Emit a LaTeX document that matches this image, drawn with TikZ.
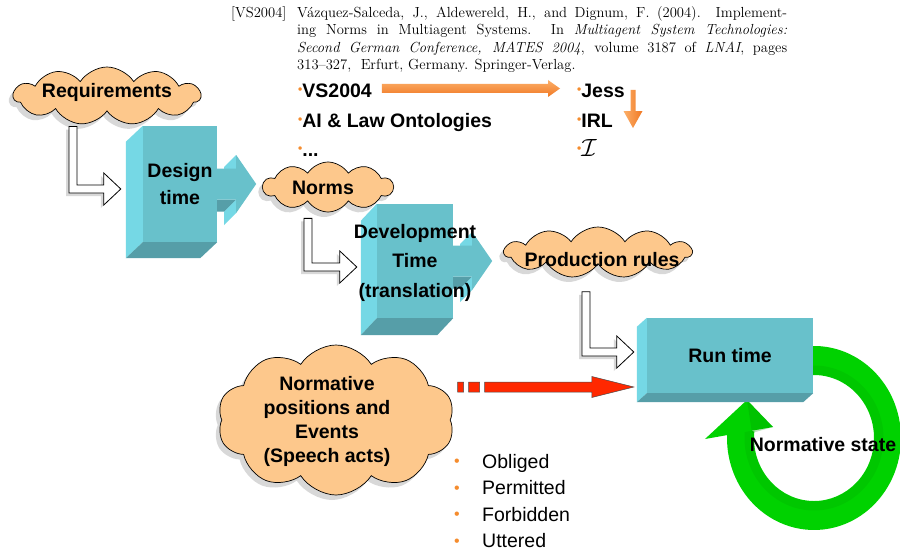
\documentclass[tikz,border=0pt]{standalone}
\usepackage{fontspec}
\newfontfamily\arial{Liberation Sans}
\usetikzlibrary{shapes.symbols,shadows,calc}

\definecolor{boxfront}{RGB}{104,193,203}
\definecolor{boxleft}{RGB}{117,216,229}
\definecolor{boxbottom}{RGB}{86,158,168}
\definecolor{cloudfill}{RGB}{253,200,140}
\definecolor{redarrow}{RGB}{255,40,0}
\definecolor{orangearrow}{RGB}{240,120,35}
\definecolor{orangelight}{RGB}{252,175,105}
\definecolor{bulorange}{RGB}{245,140,45}
\definecolor{ringgreen}{RGB}{0,210,0}
\definecolor{ringdark}{RGB}{0,150,0}

\pgfdeclarelayer{back}
\pgfsetlayers{back,main}

% left and bottom faces of an extruded box whose front face is node #1
\newcommand\sidefaces[3]{%
  \fill[boxleft] (#1.north west) -- ++(-#2,-#3) -- ($(#1.south west)+(-#2,-#3)$) -- (#1.south west) -- cycle;
  \fill[boxbottom] (#1.south west) -- ++(-#2,-#3) -- ($(#1.south east)+(-#2,-#3)$) -- (#1.south east) -- cycle;}

% extruded block arrow leaving the right side of box #1
\newcommand\boxarrow[1]{%
  \begin{scope}[shift={(#1.east)}]
    \fill[boxleft] (19,15.5) -- (19,29) -- (7,17) -- (7,3.5) -- cycle;
    \fill[boxleft] (19,-29) -- (19,-15.5) -- (7,-27.5) -- (7,-41) -- cycle;
    \fill[boxbottom] (19,-15.5) -- (0,-15.5) -- (-12,-27.5) -- (7,-27.5) -- cycle;
    \fill[boxfront] (0,15.5) -- (19,15.5) -- (19,29) -- (39,0) -- (19,-29) -- (19,-15.5) -- (0,-15.5) -- cycle;
  \end{scope}}

% white L-shaped arrow from #1 (top of the stem) to #2 (tip)
\newcommand\bentarrow[2]{%
  \filldraw[bent] let \p1=(#1), \p2=(#2) in
    (\x1-4pt,\y1) -- (\x1+4pt,\y1) -- (\x1+4pt,\y2+4pt) -- (\x2-17pt,\y2+4pt)
    -- (\x2-17pt,\y2+16pt) -- (\x2,\y2) -- (\x2-17pt,\y2-16pt) -- (\x2-17pt,\y2-4pt)
    -- (\x1-4pt,\y2-4pt) -- cycle;}

\newcommand\tbul{{\color{bulorange}\fontsize{12}{12}\selectfont\raisebox{4pt}{•}}}
\newcommand\bbul{\makebox[28pt][l]{\color{bulorange}\fontsize{16}{16}\selectfont\raisebox{1.5pt}{•}}}

\begin{document}
\begin{tikzpicture}[x=1pt,y=1pt,
  lbl/.style={font=\arial\bfseries\fontsize{19.5}{24}\selectfont, inner sep=0pt, align=center},
  listtext/.style={font=\arial\bfseries\fontsize{19.5}{24}\selectfont, inner sep=0pt, anchor=base west},
  plainlist/.style={font=\arial\fontsize{19.5}{24}\selectfont, inner sep=0pt, anchor=base west},
  bib/.style={font=\fontsize{14.6}{17.5}\selectfont, inner sep=0pt, anchor=base west},
  cloudnode/.style={cloud, cloud puffs=#1, cloud puff arc=115, cloud ignores aspect,
    draw=black, line width=.7pt, fill=cloudfill, inner sep=0pt,
    drop shadow={shadow xshift=-4pt, shadow yshift=-5pt, opacity=.3}},
  cloudnode/.default=11,
  frontface/.style={fill=boxfront, inner sep=0pt},
  bent/.style={fill=white, draw=black, line width=.8pt,
    drop shadow={shadow xshift=-3pt, shadow yshift=-3pt, opacity=.3}},
  redarr/.style={fill=redarrow, draw=black!70, line width=.5pt},
  orangearr/.style={top color=orangelight, bottom color=orangearrow}]

\useasboundingbox (0,0) rectangle (900,-551);
\begin{pgfonlayer}{back}
  \fill[white] (0,0) rectangle (900,-551);
\end{pgfonlayer}

% reference entry
\node[bib, anchor=base west] (biblabel) at (231,-17.5) {[VS2004]};
\node[bib] (bib1) at (297,-17.5) {\makebox[490pt][s]{Vázquez-Salceda, J., Aldewereld, H., and Dignum, F. (2004).\ \ Implement-}};
\node[bib] (bib2) at (297,-35) {\makebox[490pt][s]{ing Norms in Multiagent Systems.\ \ In \textit{Multiagent System Technologies:}}};
\node[bib] (bib3) at (297,-52.5) {\makebox[490pt][s]{\textit{Second German Conference, MATES 2004}, volume 3187 of \textit{LNAI}, pages}};
\node[bib] (bib4) at (297,-70) {313--327,\ \ Erfurt, Germany. Springer-Verlag.};

% source lists
\node[listtext] (vs) at (298,-98) {\tbul VS2004};
\node[listtext] (ai) at (298,-127) {\tbul AI \& Law Ontologies};
\node[listtext] (more) at (298,-156) {\tbul ...};
\node[listtext] (jess) at (577,-98) {\tbul Jess};
\node[listtext] (irl) at (577,-127) {\tbul IRL};
\node[listtext] (ical) at (577,-156) {\tbul{\fontsize{25}{25}\selectfont$\mathcal{I}$}};

\coordinate (otail) at ($(vs.base east)+(10,9.5)$);
\coordinate (otip) at ($(jess.base west)+(-17,9.5)$);
\shade[orangearr] let \p1=(otail), \p2=(otip) in
  (\x1,\y1-4.5pt) -- (\x2-12pt,\y2-4.5pt) -- (\x2-12pt,\y2-8.5pt) -- (\x2,\y2)
  -- (\x2-12pt,\y2+8.5pt) -- (\x2-12pt,\y2+4.5pt) -- (\x1,\y1+4.5pt) -- cycle;
\coordinate (dtail) at (633,-90);
\coordinate (dtip) at (633,-128);
\shade[left color=orangelight, right color=orangearrow] let \p1=(dtail), \p2=(dtip) in
  (\x1-2.5pt,\y1) -- (\x1+2.5pt,\y1) -- (\x2+2.5pt,\y2+17pt) -- (\x2+9.5pt,\y2+17pt) -- (\x2,\y2)
  -- (\x2-9.5pt,\y2+17pt) -- (\x2-2.5pt,\y2+17pt) -- cycle;

% clouds
\node[cloudnode=11, minimum width=187, minimum height=58] (req) at (107,-96) {};
\node[lbl] (reqtext) at (107,-92) {Requirements};
\node[cloudnode=10, minimum width=130, minimum height=50] (norms) at (328,-187) {};
\node[lbl] (normstext) at (323,-188) {Norms};
\node[cloudnode=11, minimum width=187, minimum height=51] (prod) at (598,-252.5) {};
\node[lbl] (prodtext) at (602,-260) {Production rules};
\node[cloudnode=10, minimum width=237, minimum height=150] (normpos) at (336,-420) {};
\node[lbl] (normpostext) at (327,-421) {Normative\\positions and\\Events\\(Speech acts)};

% stage boxes (front faces)
\node[frontface, minimum width=74, minimum height=116] (design) at (180,-184) {};
\node[lbl, font=\arial\bfseries\fontsize{19.5}{27}\selectfont] (designtext) at (design.center) {Design\\time};
\node[frontface, minimum width=76, minimum height=114] (devel) at (415,-261) {};
\node[lbl, font=\arial\bfseries\fontsize{19.5}{29.5}\selectfont] (develtext) at (415,-262.5) {Development\\Time\\(translation)};
\node[frontface, minimum width=166, minimum height=75] (run) at (730,-355.5) {};
\node[lbl] (runtext) at (run.center) {Run time};

\begin{pgfonlayer}{back}
  % normative state cycle
  \coordinate (rc) at (814,-438);
  \fill[ringgreen] ($(rc)+(100:87 and 92)$) arc[start angle=100, end angle=-186, x radius=87, y radius=92]
    -- ($(rc)+(-186:60 and 63)$) arc[start angle=-186, end angle=100, x radius=60, y radius=63] -- cycle;
  \draw[ringdark, opacity=.18, line width=9pt] ($(rc)+(100:65 and 68)$) arc[start angle=100, end angle=-186, x radius=65, y radius=68];
  \fill[ringgreen] ($(rc)+(-109,-1)$) -- ($(rc)+(-41,11)$) -- ($(rc)+(-67,38)$) -- cycle;
  \fill[ringdark, opacity=.25] ($(rc)+(-41,11)$) -- ($(rc)+(-67,38)$) -- ($(rc)+(-62,5)$) -- cycle;
  % box sides and outgoing block arrows
  \sidefaces{design}{17}{16}
  \sidefaces{devel}{16}{17}
  \sidefaces{run}{10}{9}
  \boxarrow{design}
  \boxarrow{devel}
\end{pgfonlayer}

% hand-over arrows
\coordinate (b1s) at ($(req.south)+(-34,-15)$);
\coordinate (b1t) at ($(design.west)+(-22,-5)$);
\coordinate (b2s) at ($(norms.south)+(-20,-6)$);
\coordinate (b2t) at ($(devel.west)+(-20,-6)$);
\coordinate (b3s) at ($(prod.south)+(-12,-27.5)$);
\coordinate (b3t) at ($(run.west)+(-13,3.5)$);
\bentarrow{b1s}{b1t}
\bentarrow{b2s}{b2t}
\bentarrow{b3s}{b3t}

% events feeding run time
\coordinate (redtail) at ($(normpos.east)+(7,33)$);
\coordinate (redtip) at ($(run.west)+(-13,-31.5)$);
\filldraw[redarr] let \p1=(redtail), \p2=(redtip) in
  (\x1,\y1-5pt) rectangle (\x1+6pt,\y1+5pt)
  (\x1+11pt,\y1-5pt) rectangle (\x1+22pt,\y1+5pt)
  (\x1+27pt,\y1-5pt) -- (\x2-42pt,\y2-5pt) -- (\x2-42pt,\y2-10.5pt) -- (\x2,\y2)
  -- (\x2-42pt,\y2+10.5pt) -- (\x2-42pt,\y2+5pt) -- (\x1+27pt,\y1+5pt) -- cycle;

% normative positions
\node[plainlist] (obl) at (454,-468) {\bbul Obliged};
\node[plainlist] (perm) at (454,-494.5) {\bbul Permitted};
\node[plainlist] (forb) at (454,-521) {\bbul Forbidden};
\node[plainlist] (utt) at (454,-547.5) {\bbul Uttered};

\node[lbl] (nstate) at (823,-445) {Normative state};
\end{tikzpicture}
\end{document}
